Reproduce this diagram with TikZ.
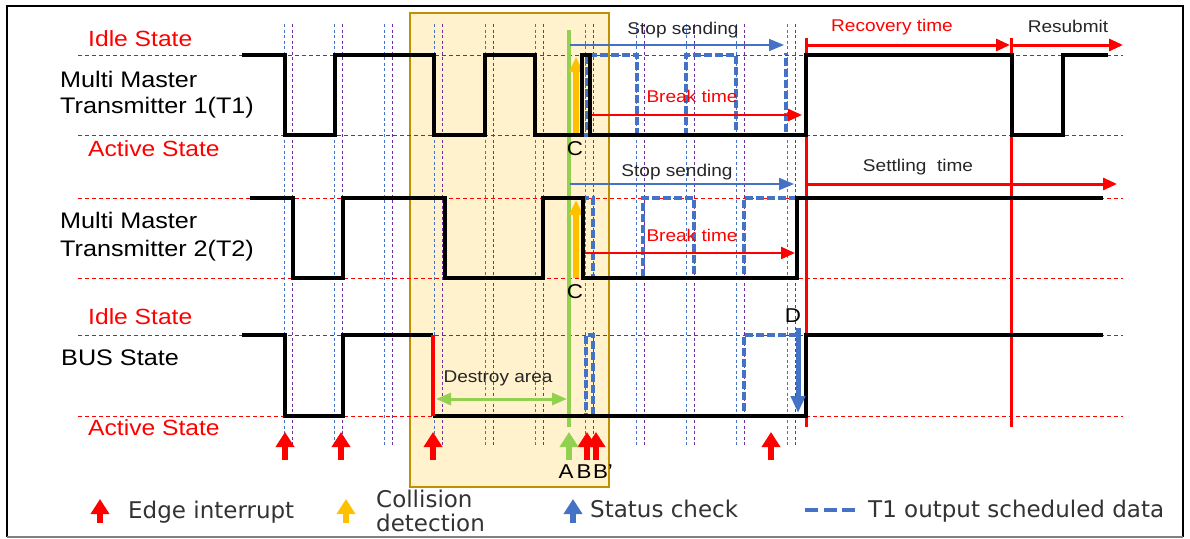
\documentclass[tikz,border=0pt]{standalone}
\usepackage{fontspec}
\setmainfont{Liberation Sans}[FakeStretch=1.12]
\newfontfamily\legendfont{DejaVu Sans}
\usetikzlibrary{arrows.meta}
\definecolor{sigred}{HTML}{FF0000}
\definecolor{chkblue}{HTML}{4472C4}
\definecolor{gridpurple}{HTML}{7030A0}
\definecolor{areafill}{HTML}{FFF2CC}
\definecolor{areaedge}{HTML}{BF9000}
\definecolor{agreen}{HTML}{92D050}
\definecolor{cdyellow}{HTML}{FFC000}
\definecolor{txtgray}{HTML}{262626}
\definecolor{legendgray}{HTML}{333333}

\begin{document}
\begin{tikzpicture}[x=1pt,y=-1pt,
  level/.style={sigred, line width=0.8pt, dash pattern=on 4pt off 3pt},
  gridb/.style={chkblue, line width=0.9pt, dash pattern=on 3pt off 2.5pt},
  gridp/.style={gridpurple, line width=0.9pt, dash pattern=on 3pt off 2.5pt},
  signal/.style={black, line width=4pt, line join=miter},
  sched/.style={chkblue, line width=3.5pt, dash pattern=on 8pt off 3pt},
  thinarrow/.style={chkblue, line width=1.8pt, -{Triangle[width=12pt,length=15pt]}},
  redarrow/.style={sigred, line width=2.4pt, -{Triangle[width=12pt,length=14pt]}},
  bigarrow/.style={line width=6.5pt, -{Triangle[width=18pt,length=15pt]}},
  statelabel/.style={text=sigred, anchor=base west, inner sep=0pt, font=\fontsize{22}{26}\selectfont},
  rowlabel/.style={text=black, anchor=base west, inner sep=0pt, font=\fontsize{22.5}{26}\selectfont},
  spanlabel/.style={text=txtgray, anchor=base, inner sep=0pt, font=\fontsize{17}{20}\selectfont},
  pointlabel/.style={text=black, anchor=base, inner sep=0pt, font=\fontsize{20}{24}\selectfont},
  legendlabel/.style={text=legendgray, anchor=base west, inner sep=0pt, font=\legendfont\fontsize{23}{26}\selectfont}
]
\useasboundingbox (0,0) rectangle (1190,538);

% frame
\draw[black, line width=2pt] (7,537) -- (7,6) -- (1183,6) -- (1183,537);
\draw[gray, line width=2pt] (7,537) -- (1183,537);

% destroy area
\fill[areafill] (410,13) rectangle (609,487);
\draw[areaedge, line width=1.5pt] (410,13) rectangle (609,487);

% idle / active levels
\foreach \yy in {55,135,198,278,335,416}
  \draw[level] (78,\yy) -- (1123,\yy);

% sampling grid
\foreach \k in {0,...,10}{
  \pgfmathsetmacro{\xb}{284+50.3*\k}
  \draw[gridb] (\xb,24) -- (\xb,446);
  \draw[gridp] (\xb+8,24) -- (\xb+8,446);
}

% recovery boundaries
\draw[sigred, line width=3pt] (806,38) -- (806,427);
\draw[sigred, line width=3pt] (1011,38) -- (1011,427);

% collision point A
\draw[agreen, line width=4pt] (569,30) -- (569,427);

% scheduled T1 output data
\draw[sched] (570,135) -- (587,135) -- (587,55) -- (637,55) -- (637,135) -- (686,135)
  -- (686,55) -- (736,55) -- (736,135) -- (786,135) -- (786,53);
\draw[sched] (570,198) -- (593,198) -- (593,278) -- (643,278) -- (643,198) -- (694,198)
  -- (694,278) -- (744,278) -- (744,198) -- (796,198);
\draw[sched] (570,416) -- (586,416) -- (586,335) -- (593,335) -- (593,416) -- (744,416)
  -- (744,335) -- (796,335);

% collision detection
\draw[cdyellow, line width=6pt, -{Triangle[width=13pt,length=15pt]}] (576,135) -- (576,57);
\draw[cdyellow, line width=6pt, -{Triangle[width=13pt,length=15pt]}] (576,278) -- (576,200);

% signals
\draw[signal] (242,55) -- (285,55) -- (285,135) -- (335,135) -- (335,55) -- (434,55)
  -- (434,135) -- (485,135) -- (485,55) -- (535,55) -- (535,135) -- (582,135)
  -- (582,55) -- (590,55) -- (590,135) -- (806,135) -- (806,55) -- (1012,55)
  -- (1012,135) -- (1063,135) -- (1063,55) -- (1108,55);
\draw[signal] (250,198) -- (293,198) -- (293,278) -- (343,278) -- (343,198) -- (445,198)
  -- (445,278) -- (543,278) -- (543,198) -- (583,198) -- (583,278) -- (797,278)
  -- (797,198) -- (1103,198);
\draw[signal] (242,335) -- (285,335) -- (285,416) -- (343,416) -- (343,335) -- (433,335);
\draw[signal] (433,416) -- (806,416) -- (806,335) -- (1103,335);
\draw[sigred, line width=4pt] (433,335) -- (433,416);

% status check at D
\draw[chkblue, line width=5pt, -{Triangle[width=14pt,length=17pt]}] (798,328) -- (798,413);

% spans
\draw[thinarrow] (570,45) -- (784,45);
\draw[thinarrow] (570,184) -- (794,184);
\draw[redarrow] (592,115) -- (802,115);
\draw[redarrow] (585,253) -- (795,253);
\draw[sigred, line width=3pt, -{Triangle[width=12pt,length=14pt]}] (806,45) -- (1010,45);
\draw[sigred, line width=3pt, -{Triangle[width=12pt,length=14pt]}] (1011,45) -- (1123,45);
\draw[sigred, line width=3pt, -{Triangle[width=12pt,length=14pt]}] (806,184) -- (1117,184);
\draw[agreen, line width=3pt, {Triangle[width=12pt,length=15pt]}-{Triangle[width=12pt,length=15pt]}] (436,399) -- (567,399);

% edge interrupts
\foreach \xe in {285,341,433,587,596,771}
  \draw[sigred, bigarrow] (\xe,460) -- (\xe,432);
\draw[agreen, bigarrow] (569,460) -- (569,432);

% labels
\node[statelabel] (idle1) at (88,46) {Idle State};
\node[rowlabel] (t1a) at (60,87) {Multi Master};
\node[rowlabel] (t1b) at (60,113) {Transmitter 1(T1)};
\node[statelabel] (act1) at (88,156) {Active State};
\node[rowlabel] (t2a) at (60,228) {Multi Master};
\node[rowlabel] (t2b) at (60,256) {Transmitter 2(T2)};
\node[statelabel] (idle2) at (88,324) {Idle State};
\node[rowlabel] (bus) at (61,365) {BUS State};
\node[statelabel] (act2) at (88,435) {Active State};

\node[spanlabel] (stop1) at (683,34) {Stop sending};
\node[spanlabel, text=sigred] (brk1) at (692,102) {Break time};
\node[spanlabel, text=sigred] (rec) at (892,31) {Recovery time};
\node[spanlabel] (resub) at (1068,32) {Resubmit};
\node[spanlabel] (stop2) at (677,176) {Stop sending};
\node[spanlabel, text=sigred] (brk2) at (692,241) {Break time};
\node[spanlabel] (settle) at (918,171) {Settling\ \ time};
\node[spanlabel] (destroy) at (498,382) {Destroy area};

\node[pointlabel] (c1) at (575,155) {C};
\node[pointlabel] (c2) at (575,298) {C};
\node[pointlabel] (d) at (793,322) {D};
\node[pointlabel] (pa) at (566,478) {A};
\node[pointlabel] (pb) at (584,478) {B};
\node[pointlabel] (pbb) at (603,478) {B'};

% legend
\draw[sigred, bigarrow] (100,523) -- (100,499);
\node[legendlabel] (lg1) at (128,518) {Edge interrupt};
\draw[cdyellow, bigarrow] (346,523) -- (346,499);
\node[legendlabel] (lg2a) at (376,507) {Collision};
\node[legendlabel] (lg2b) at (376,531) {detection};
\draw[chkblue, bigarrow] (573,523) -- (573,499);
\node[legendlabel] (lg3) at (590,517) {Status check};
\draw[chkblue, line width=4pt, dash pattern=on 13pt off 5.5pt] (805,510) -- (856,510);
\node[legendlabel] (lg4) at (868,517) {T1 output scheduled data};
\end{tikzpicture}
\end{document}
